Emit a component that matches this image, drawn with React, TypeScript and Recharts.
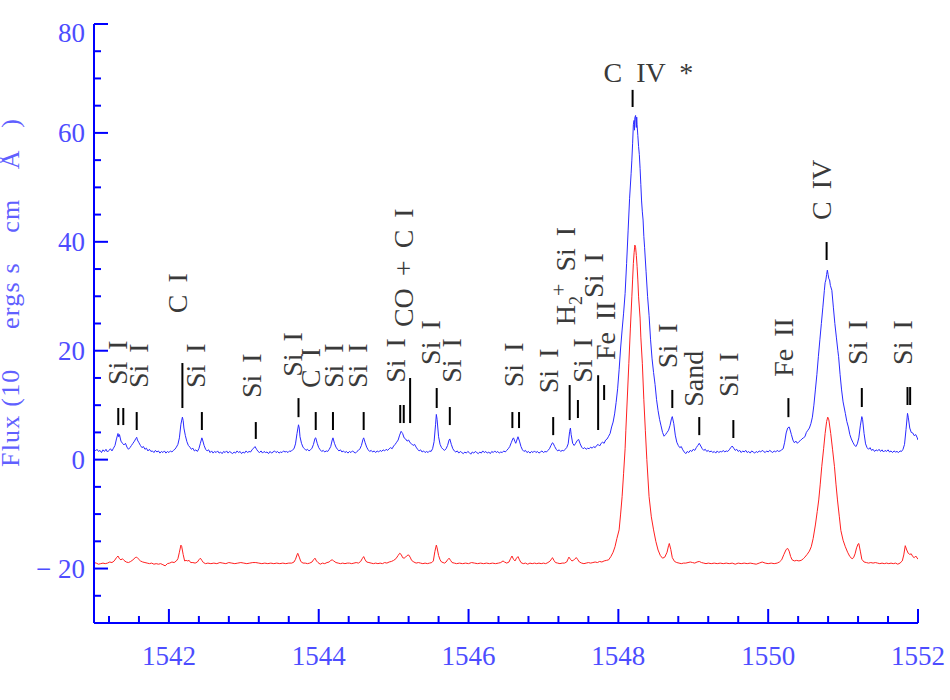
import React from 'react'
import { ComposedChart, Line, Scatter, XAxis, YAxis, ReferenceLine } from 'recharts'

// wavelength (A), flux
const blueSpectrum: [number, number][] = [
  [1541.00, 2.0], [1541.02, 1.6], [1541.04, 1.9], [1541.06, 1.5], [1541.08, 1.7], [1541.10, 1.3], [1541.12, 1.8], [1541.14, 1.5],
  [1541.16, 1.9], [1541.18, 1.4], [1541.20, 1.7], [1541.22, 2.0], [1541.24, 1.6], [1541.26, 2.1], [1541.28, 2.6], [1541.30, 3.8],
  [1541.32, 4.8], [1541.33, 4.2], [1541.34, 4.6], [1541.36, 3.4], [1541.38, 3.0], [1541.40, 2.7], [1541.42, 3.0], [1541.44, 2.3],
  [1541.46, 1.9], [1541.48, 2.2], [1541.50, 2.6], [1541.52, 3.0], [1541.54, 3.4], [1541.56, 3.9], [1541.57, 4.1], [1541.58, 3.6],
  [1541.60, 3.1], [1541.62, 2.6], [1541.64, 2.2], [1541.66, 2.4], [1541.68, 1.9], [1541.70, 2.1], [1541.72, 1.6], [1541.74, 1.9],
  [1541.76, 1.5], [1541.78, 1.6], [1541.80, 1.3], [1541.82, 1.7], [1541.84, 1.4], [1541.86, 1.6], [1541.88, 1.2], [1541.90, 1.5],
  [1541.92, 1.3], [1541.94, 1.6], [1541.96, 1.2], [1541.98, 1.5], [1542.00, 1.3], [1542.02, 1.6], [1542.04, 1.4], [1542.06, 1.7],
  [1542.08, 1.9], [1542.10, 2.3], [1542.12, 2.8], [1542.14, 4.0], [1542.16, 6.5], [1542.18, 7.8], [1542.19, 7.2], [1542.20, 5.8],
  [1542.22, 4.4], [1542.24, 3.3], [1542.26, 2.6], [1542.28, 2.3], [1542.30, 1.9], [1542.32, 2.1], [1542.34, 1.6], [1542.36, 1.8],
  [1542.38, 1.5], [1542.40, 2.0], [1542.42, 3.0], [1542.44, 4.0], [1542.45, 3.6], [1542.47, 2.6], [1542.49, 1.9], [1542.51, 1.6],
  [1542.53, 1.8], [1542.55, 1.3], [1542.57, 1.6], [1542.59, 1.2], [1542.61, 1.5], [1542.63, 1.3], [1542.65, 1.6], [1542.67, 1.2],
  [1542.69, 1.4], [1542.71, 1.1], [1542.73, 1.5], [1542.75, 1.3], [1542.77, 1.6], [1542.79, 1.2], [1542.81, 1.5], [1542.83, 1.3],
  [1542.85, 1.1], [1542.87, 1.4], [1542.89, 1.2], [1542.91, 1.6], [1542.93, 1.3], [1542.95, 1.5], [1542.97, 1.1], [1542.99, 1.4],
  [1543.01, 1.2], [1543.03, 1.6], [1543.05, 1.3], [1543.07, 1.5], [1543.09, 1.4], [1543.11, 1.8], [1543.13, 2.1], [1543.15, 2.4],
  [1543.17, 1.9], [1543.19, 1.5], [1543.21, 1.3], [1543.23, 1.6], [1543.25, 1.2], [1543.27, 1.5], [1543.29, 1.3], [1543.31, 1.4],
  [1543.33, 1.1], [1543.35, 1.5], [1543.37, 1.2], [1543.39, 1.4], [1543.41, 1.6], [1543.43, 1.3], [1543.45, 1.5], [1543.47, 1.2],
  [1543.49, 1.4], [1543.51, 1.3], [1543.53, 1.6], [1543.55, 1.4], [1543.57, 1.5], [1543.59, 1.3], [1543.61, 1.6], [1543.63, 1.5],
  [1543.65, 1.8], [1543.67, 2.0], [1543.69, 2.9], [1543.71, 4.8], [1543.73, 6.4], [1543.74, 5.8], [1543.75, 4.2], [1543.77, 3.0],
  [1543.79, 2.3], [1543.81, 2.0], [1543.83, 1.7], [1543.85, 1.9], [1543.87, 1.6], [1543.89, 1.8], [1543.91, 2.1], [1543.93, 2.8],
  [1543.95, 3.9], [1543.96, 4.0], [1543.98, 3.0], [1544.00, 2.2], [1544.02, 1.8], [1544.04, 1.5], [1544.06, 1.7], [1544.08, 1.4],
  [1544.10, 1.6], [1544.12, 1.5], [1544.14, 1.9], [1544.16, 2.4], [1544.18, 3.6], [1544.19, 4.0], [1544.21, 3.0], [1544.23, 2.3],
  [1544.25, 1.9], [1544.27, 1.6], [1544.29, 1.8], [1544.31, 1.4], [1544.33, 1.6], [1544.35, 1.3], [1544.37, 1.5], [1544.39, 1.2],
  [1544.41, 1.5], [1544.43, 1.3], [1544.45, 1.6], [1544.47, 1.4], [1544.49, 1.2], [1544.51, 1.5], [1544.53, 1.7], [1544.55, 2.0],
  [1544.57, 2.6], [1544.59, 3.7], [1544.60, 4.0], [1544.62, 3.1], [1544.64, 2.3], [1544.66, 1.8], [1544.68, 1.5], [1544.70, 1.7],
  [1544.72, 1.4], [1544.74, 1.6], [1544.76, 1.3], [1544.78, 1.6], [1544.80, 1.4], [1544.82, 1.7], [1544.84, 1.5], [1544.86, 1.8],
  [1544.88, 1.6], [1544.90, 1.9], [1544.92, 1.7], [1544.94, 2.0], [1544.96, 2.2], [1544.98, 2.0], [1545.00, 2.5], [1545.02, 2.8],
  [1545.04, 3.2], [1545.06, 3.6], [1545.08, 4.5], [1545.10, 5.2], [1545.11, 5.0], [1545.12, 4.8], [1545.14, 4.0], [1545.16, 3.8],
  [1545.18, 3.4], [1545.20, 3.6], [1545.22, 3.1], [1545.24, 2.9], [1545.26, 2.6], [1545.28, 2.8], [1545.30, 2.3], [1545.32, 1.9],
  [1545.34, 1.6], [1545.36, 1.8], [1545.38, 1.4], [1545.40, 1.6], [1545.42, 1.3], [1545.44, 1.5], [1545.46, 1.3], [1545.48, 1.6],
  [1545.50, 1.5], [1545.52, 2.0], [1545.54, 3.3], [1545.56, 6.5], [1545.57, 8.3], [1545.58, 7.4], [1545.60, 4.2], [1545.62, 2.8],
  [1545.64, 2.2], [1545.66, 1.9], [1545.68, 1.7], [1545.70, 2.0], [1545.72, 2.6], [1545.74, 3.6], [1545.75, 3.8], [1545.77, 2.8],
  [1545.79, 2.0], [1545.81, 1.6], [1545.83, 1.4], [1545.85, 1.6], [1545.87, 1.2], [1545.89, 1.5], [1545.91, 1.3], [1545.93, 1.1],
  [1545.95, 1.4], [1545.97, 1.2], [1545.99, 1.5], [1546.01, 1.3], [1546.03, 1.0], [1546.05, 1.4], [1546.07, 1.2], [1546.09, 1.5],
  [1546.11, 1.3], [1546.13, 1.1], [1546.15, 1.4], [1546.17, 1.2], [1546.19, 1.6], [1546.21, 1.3], [1546.23, 1.5], [1546.25, 1.2],
  [1546.27, 1.4], [1546.29, 1.1], [1546.31, 1.5], [1546.33, 1.3], [1546.35, 1.6], [1546.37, 1.3], [1546.39, 1.5], [1546.41, 1.2],
  [1546.43, 1.4], [1546.45, 1.3], [1546.47, 1.6], [1546.49, 1.4], [1546.51, 1.7], [1546.53, 2.0], [1546.55, 2.4], [1546.57, 3.1],
  [1546.59, 3.8], [1546.60, 4.0], [1546.62, 3.3], [1546.63, 3.0], [1546.65, 3.8], [1546.66, 4.2], [1546.68, 3.4], [1546.70, 2.4],
  [1546.72, 1.8], [1546.74, 1.5], [1546.76, 1.7], [1546.78, 1.3], [1546.80, 1.5], [1546.82, 1.2], [1546.84, 1.5], [1546.86, 1.3],
  [1546.88, 1.6], [1546.90, 1.3], [1546.92, 1.5], [1546.94, 1.2], [1546.96, 1.4], [1546.98, 1.6], [1547.00, 1.3], [1547.02, 1.5],
  [1547.04, 1.4], [1547.06, 1.7], [1547.08, 2.0], [1547.10, 2.6], [1547.12, 3.1], [1547.13, 3.0], [1547.15, 2.4], [1547.17, 1.9],
  [1547.19, 1.6], [1547.21, 1.8], [1547.23, 1.5], [1547.25, 1.7], [1547.27, 1.6], [1547.29, 1.9], [1547.31, 2.2], [1547.33, 2.9],
  [1547.35, 5.2], [1547.36, 5.8], [1547.37, 4.6], [1547.39, 3.0], [1547.41, 2.6], [1547.43, 3.0], [1547.45, 3.5], [1547.47, 3.7],
  [1547.49, 2.9], [1547.51, 2.3], [1547.53, 2.0], [1547.55, 2.2], [1547.57, 1.9], [1547.59, 2.1], [1547.61, 2.0], [1547.63, 2.3],
  [1547.65, 2.1], [1547.67, 2.4], [1547.69, 2.2], [1547.71, 2.6], [1547.73, 2.8], [1547.75, 2.5], [1547.77, 3.0], [1547.79, 3.2],
  [1547.81, 3.0], [1547.83, 3.6], [1547.85, 3.8], [1547.87, 4.3], [1547.89, 4.8], [1547.91, 6.0], [1547.93, 6.9], [1547.95, 8.4],
  [1547.97, 10.5], [1547.99, 13.0], [1548.01, 16.5], [1548.03, 20.5], [1548.05, 23.8], [1548.07, 26.9], [1548.09, 30.5], [1548.11, 36.0],
  [1548.13, 42.0], [1548.15, 48.0], [1548.17, 52.5], [1548.18, 55.0], [1548.19, 58.0], [1548.20, 61.5], [1548.21, 62.3], [1548.215, 60.5],
  [1548.22, 62.8], [1548.23, 63.2], [1548.24, 61.0], [1548.245, 62.9], [1548.25, 61.5], [1548.26, 59.5], [1548.27, 57.5], [1548.28, 56.0],
  [1548.29, 53.5], [1548.30, 50.5], [1548.31, 47.5], [1548.32, 45.5], [1548.33, 44.0], [1548.34, 41.0], [1548.35, 39.0], [1548.37, 34.5],
  [1548.39, 30.0], [1548.41, 26.5], [1548.43, 22.0], [1548.45, 18.5], [1548.47, 16.0], [1548.49, 13.8], [1548.51, 11.0], [1548.53, 9.0],
  [1548.55, 7.4], [1548.57, 6.2], [1548.59, 5.0], [1548.61, 4.3], [1548.63, 4.6], [1548.65, 5.0], [1548.67, 5.4], [1548.69, 6.3],
  [1548.71, 7.6], [1548.72, 7.9], [1548.74, 6.6], [1548.76, 4.5], [1548.78, 3.2], [1548.80, 2.6], [1548.82, 2.2], [1548.84, 2.4],
  [1548.86, 1.8], [1548.88, 1.4], [1548.90, 1.1], [1548.92, 1.5], [1548.94, 1.3], [1548.96, 1.7], [1548.98, 1.5], [1549.00, 1.9],
  [1549.02, 1.7], [1549.04, 2.2], [1549.06, 2.6], [1549.08, 3.0], [1549.10, 2.5], [1549.12, 2.0], [1549.14, 1.7], [1549.16, 1.9],
  [1549.18, 1.5], [1549.20, 1.7], [1549.22, 1.4], [1549.24, 1.6], [1549.26, 1.3], [1549.28, 1.5], [1549.30, 1.2], [1549.32, 1.6],
  [1549.34, 1.3], [1549.36, 1.5], [1549.38, 1.4], [1549.40, 1.7], [1549.42, 1.4], [1549.44, 1.6], [1549.46, 1.5], [1549.48, 1.8],
  [1549.50, 2.2], [1549.52, 2.5], [1549.54, 2.1], [1549.56, 1.7], [1549.58, 1.9], [1549.60, 1.5], [1549.62, 1.7], [1549.64, 1.3],
  [1549.66, 1.6], [1549.68, 1.4], [1549.70, 1.7], [1549.72, 1.3], [1549.74, 1.5], [1549.76, 1.2], [1549.78, 1.6], [1549.80, 1.4],
  [1549.82, 1.2], [1549.84, 1.5], [1549.86, 1.3], [1549.88, 1.6], [1549.90, 1.4], [1549.92, 1.7], [1549.94, 1.5], [1549.96, 1.3],
  [1549.98, 1.6], [1550.00, 1.4], [1550.02, 1.7], [1550.04, 1.5], [1550.06, 1.3], [1550.08, 1.6], [1550.10, 1.4], [1550.12, 1.7],
  [1550.14, 1.5], [1550.16, 1.6], [1550.18, 1.8], [1550.20, 2.0], [1550.22, 3.2], [1550.24, 4.9], [1550.26, 5.8], [1550.28, 6.0],
  [1550.29, 5.6], [1550.31, 4.6], [1550.33, 3.6], [1550.35, 3.1], [1550.37, 3.4], [1550.39, 3.0], [1550.41, 3.3], [1550.43, 3.5],
  [1550.45, 3.8], [1550.47, 4.0], [1550.49, 4.2], [1550.51, 5.0], [1550.53, 5.4], [1550.55, 5.8], [1550.57, 6.6], [1550.59, 7.8],
  [1550.61, 10.0], [1550.63, 12.8], [1550.65, 15.6], [1550.67, 18.9], [1550.69, 22.0], [1550.71, 25.0], [1550.73, 28.0], [1550.75, 31.1],
  [1550.76, 32.5], [1550.77, 33.0], [1550.78, 34.0], [1550.79, 34.8], [1550.80, 34.0], [1550.81, 33.2], [1550.82, 33.0], [1550.83, 32.0],
  [1550.85, 31.1], [1550.87, 28.0], [1550.89, 25.0], [1550.91, 22.5], [1550.93, 20.0], [1550.94, 18.9], [1550.96, 15.6], [1550.98, 12.8],
  [1551.00, 10.6], [1551.03, 8.5], [1551.05, 7.0], [1551.07, 6.0], [1551.09, 4.6], [1551.11, 3.8], [1551.13, 3.2], [1551.15, 2.7],
  [1551.17, 2.4], [1551.19, 2.9], [1551.21, 4.0], [1551.23, 6.2], [1551.25, 7.9], [1551.26, 7.4], [1551.28, 4.8], [1551.30, 2.9],
  [1551.32, 2.2], [1551.34, 1.9], [1551.36, 2.2], [1551.38, 1.7], [1551.40, 1.9], [1551.42, 1.5], [1551.44, 1.8], [1551.46, 1.6],
  [1551.48, 1.9], [1551.50, 1.5], [1551.52, 1.8], [1551.54, 1.4], [1551.56, 1.7], [1551.58, 1.5], [1551.60, 1.8], [1551.62, 1.4],
  [1551.64, 1.6], [1551.66, 1.3], [1551.68, 1.6], [1551.70, 1.4], [1551.72, 1.5], [1551.74, 1.3], [1551.76, 1.6], [1551.78, 1.5],
  [1551.80, 1.9], [1551.82, 2.8], [1551.84, 5.5], [1551.86, 8.5], [1551.87, 7.8], [1551.89, 5.8], [1551.91, 5.0], [1551.93, 4.9],
  [1551.95, 4.4], [1551.97, 4.6], [1551.99, 4.0], [1552.00, 3.6],
]

const redSpectrum: [number, number][] = [
  [1541.00, -18.9], [1541.03, -19.0], [1541.06, -19.2], [1541.09, -19.1], [1541.12, -19.0], [1541.15, -19.1], [1541.18, -19.0], [1541.21, -18.8],
  [1541.24, -18.9], [1541.27, -18.6], [1541.30, -18.0], [1541.32, -17.7], [1541.34, -18.2], [1541.36, -18.4], [1541.38, -18.2], [1541.40, -18.5],
  [1541.43, -18.8], [1541.46, -18.9], [1541.49, -18.7], [1541.52, -18.4], [1541.55, -18.0], [1541.57, -17.9], [1541.59, -18.2], [1541.62, -18.6],
  [1541.65, -18.8], [1541.68, -18.9], [1541.71, -19.0], [1541.74, -19.1], [1541.77, -19.0], [1541.80, -19.2], [1541.83, -19.1], [1541.86, -19.2],
  [1541.89, -19.1], [1541.92, -19.3], [1541.95, -19.5], [1541.98, -19.1], [1542.01, -19.0], [1542.04, -18.8], [1542.07, -18.9], [1542.10, -18.6],
  [1542.12, -18.2], [1542.14, -17.0], [1542.16, -15.7], [1542.17, -15.9], [1542.19, -17.4], [1542.21, -18.6], [1542.23, -18.5], [1542.25, -18.6],
  [1542.27, -18.5], [1542.29, -18.9], [1542.32, -18.9], [1542.35, -19.0], [1542.38, -18.8], [1542.40, -18.4], [1542.42, -18.1], [1542.44, -18.5],
  [1542.46, -18.9], [1542.49, -19.1], [1542.52, -19.0], [1542.56, -19.1], [1542.60, -19.0], [1542.64, -19.1], [1542.68, -18.9], [1542.72, -19.0],
  [1542.76, -19.1], [1542.80, -18.9], [1542.84, -19.0], [1542.88, -19.1], [1542.92, -19.0], [1542.96, -18.9], [1543.00, -19.0], [1543.04, -19.1],
  [1543.08, -19.0], [1543.12, -18.9], [1543.16, -18.9], [1543.20, -19.0], [1543.24, -19.1], [1543.28, -19.0], [1543.32, -19.1], [1543.36, -19.0],
  [1543.40, -19.1], [1543.44, -19.0], [1543.48, -19.1], [1543.52, -19.0], [1543.56, -19.1], [1543.60, -19.0], [1543.64, -19.0], [1543.67, -18.8],
  [1543.69, -18.3], [1543.71, -17.5], [1543.72, -17.2], [1543.74, -17.9], [1543.76, -18.7], [1543.79, -19.0], [1543.82, -19.0], [1543.85, -19.1],
  [1543.88, -19.0], [1543.91, -18.8], [1543.93, -18.4], [1543.95, -18.1], [1543.97, -18.6], [1543.99, -18.9], [1544.02, -19.2], [1544.05, -19.0],
  [1544.08, -19.1], [1544.11, -18.9], [1544.14, -18.8], [1544.16, -18.5], [1544.18, -18.4], [1544.20, -18.6], [1544.23, -18.9], [1544.26, -19.0],
  [1544.29, -19.1], [1544.32, -19.0], [1544.35, -19.1], [1544.38, -19.0], [1544.41, -19.0], [1544.44, -19.1], [1544.47, -19.0], [1544.50, -18.9],
  [1544.53, -19.0], [1544.56, -18.7], [1544.58, -18.2], [1544.60, -17.8], [1544.62, -18.4], [1544.64, -18.8], [1544.67, -18.9], [1544.70, -19.0],
  [1544.73, -19.1], [1544.76, -19.0], [1544.79, -19.1], [1544.82, -19.0], [1544.85, -19.1], [1544.88, -18.9], [1544.91, -19.0], [1544.94, -18.8],
  [1544.97, -18.7], [1545.00, -18.5], [1545.03, -18.2], [1545.06, -17.6], [1545.08, -17.2], [1545.10, -17.4], [1545.12, -18.0], [1545.14, -18.1],
  [1545.16, -17.9], [1545.18, -17.6], [1545.20, -17.5], [1545.22, -17.9], [1545.24, -18.5], [1545.27, -18.8], [1545.30, -19.0], [1545.33, -18.9],
  [1545.36, -19.0], [1545.39, -19.1], [1545.42, -19.0], [1545.45, -19.1], [1545.48, -19.0], [1545.51, -18.9], [1545.53, -18.6], [1545.55, -16.9],
  [1545.57, -15.7], [1545.58, -16.2], [1545.60, -17.6], [1545.62, -18.4], [1545.64, -18.8], [1545.66, -18.9], [1545.68, -19.0], [1545.70, -18.8],
  [1545.72, -18.4], [1545.74, -18.1], [1545.76, -18.5], [1545.78, -18.9], [1545.81, -19.0], [1545.84, -19.1], [1545.88, -19.0], [1545.92, -19.1],
  [1545.96, -19.0], [1546.00, -19.1], [1546.04, -18.9], [1546.08, -19.0], [1546.12, -19.1], [1546.16, -19.0], [1546.20, -19.1], [1546.24, -19.0],
  [1546.28, -19.1], [1546.32, -19.0], [1546.36, -19.1], [1546.40, -19.0], [1546.43, -18.9], [1546.46, -18.6], [1546.48, -18.8], [1546.51, -19.0],
  [1546.54, -18.8], [1546.56, -18.2], [1546.58, -17.7], [1546.60, -18.3], [1546.62, -18.6], [1546.64, -18.1], [1546.66, -17.8], [1546.68, -18.4],
  [1546.70, -18.9], [1546.73, -19.1], [1546.76, -19.0], [1546.79, -19.2], [1546.82, -19.0], [1546.85, -19.1], [1546.88, -19.0], [1546.91, -19.1],
  [1546.94, -19.0], [1546.97, -19.1], [1547.00, -19.0], [1547.03, -19.1], [1547.06, -18.9], [1547.09, -18.6], [1547.11, -18.2], [1547.12, -18.0],
  [1547.14, -18.5], [1547.16, -18.9], [1547.19, -19.0], [1547.22, -19.1], [1547.25, -19.0], [1547.28, -19.0], [1547.31, -18.8], [1547.33, -18.2],
  [1547.34, -17.9], [1547.36, -18.3], [1547.38, -18.6], [1547.40, -18.5], [1547.42, -18.2], [1547.44, -18.0], [1547.46, -18.4], [1547.48, -18.8],
  [1547.51, -19.0], [1547.54, -19.1], [1547.57, -19.0], [1547.60, -18.9], [1547.63, -19.0], [1547.66, -18.9], [1547.69, -18.8], [1547.72, -18.9],
  [1547.75, -18.7], [1547.78, -18.8], [1547.81, -18.6], [1547.84, -18.5], [1547.87, -18.4], [1547.90, -17.8], [1547.93, -17.0], [1547.955, -16.0],
  [1547.98, -14.5], [1548.01, -12.9], [1548.03, -10.0], [1548.05, -6.8], [1548.07, -2.5], [1548.09, 2.0], [1548.10, 5.4], [1548.12, 11.5],
  [1548.14, 17.7], [1548.16, 24.0], [1548.18, 29.9], [1548.19, 33.0], [1548.20, 36.0], [1548.21, 38.0], [1548.22, 39.4], [1548.23, 39.0],
  [1548.24, 37.5], [1548.25, 35.5], [1548.26, 33.0], [1548.27, 29.9], [1548.29, 26.0], [1548.30, 22.5], [1548.32, 17.7], [1548.34, 11.0],
  [1548.36, 5.4], [1548.38, 0.0], [1548.41, -6.8], [1548.44, -10.5], [1548.47, -12.9], [1548.50, -15.0], [1548.53, -16.6], [1548.56, -17.6],
  [1548.59, -18.1], [1548.62, -17.9], [1548.65, -17.0], [1548.67, -15.8], [1548.68, -15.4], [1548.70, -16.5], [1548.72, -18.0], [1548.75, -18.7],
  [1548.78, -18.9], [1548.81, -19.0], [1548.84, -19.1], [1548.87, -19.0], [1548.90, -19.0], [1548.93, -18.9], [1548.96, -18.8], [1548.99, -18.9],
  [1549.02, -19.0], [1549.05, -18.8], [1549.08, -18.7], [1549.11, -18.9], [1549.14, -19.0], [1549.17, -19.1], [1549.20, -19.0], [1549.24, -19.1],
  [1549.28, -19.0], [1549.32, -19.1], [1549.36, -19.0], [1549.40, -19.1], [1549.44, -19.0], [1549.48, -19.1], [1549.52, -19.0], [1549.56, -19.2],
  [1549.60, -19.0], [1549.64, -19.1], [1549.68, -19.0], [1549.72, -19.1], [1549.76, -19.0], [1549.80, -19.1], [1549.84, -19.2], [1549.88, -19.0],
  [1549.92, -18.8], [1549.96, -19.0], [1550.00, -19.1], [1550.04, -19.0], [1550.08, -19.1], [1550.12, -19.0], [1550.15, -18.8], [1550.18, -18.4],
  [1550.21, -17.4], [1550.24, -16.5], [1550.26, -16.3], [1550.28, -16.8], [1550.30, -17.8], [1550.32, -18.4], [1550.35, -18.6], [1550.38, -18.5],
  [1550.41, -18.6], [1550.44, -18.5], [1550.47, -18.2], [1550.49, -17.9], [1550.52, -17.4], [1550.55, -16.8], [1550.575, -16.0], [1550.60, -14.5],
  [1550.63, -12.0], [1550.655, -9.5], [1550.675, -7.4], [1550.695, -4.5], [1550.715, -1.3], [1550.74, 2.0], [1550.76, 4.8], [1550.78, 7.0],
  [1550.795, 7.8], [1550.81, 7.3], [1550.835, 4.8], [1550.86, 1.8], [1550.885, -1.3], [1550.905, -4.5], [1550.925, -7.4], [1550.95, -10.5],
  [1550.97, -13.0], [1551.00, -14.8], [1551.03, -16.0], [1551.06, -17.0], [1551.09, -17.8], [1551.12, -18.2], [1551.14, -18.0], [1551.16, -17.3],
  [1551.18, -16.2], [1551.20, -15.5], [1551.21, -15.4], [1551.23, -16.8], [1551.25, -18.3], [1551.28, -18.8], [1551.31, -18.9], [1551.34, -19.0],
  [1551.37, -18.9], [1551.40, -19.0], [1551.43, -18.9], [1551.46, -19.0], [1551.49, -19.1], [1551.52, -19.0], [1551.55, -19.1], [1551.58, -19.0],
  [1551.61, -19.1], [1551.64, -19.0], [1551.67, -19.1], [1551.70, -19.0], [1551.73, -19.2], [1551.76, -19.0], [1551.79, -18.6], [1551.81, -17.5],
  [1551.83, -15.8], [1551.85, -16.6], [1551.87, -17.2], [1551.89, -17.4], [1551.91, -17.3], [1551.93, -17.8], [1551.95, -18.0], [1551.97, -17.7],
  [1552.00, -18.3],
]

// line identifications: text position (bottom end of rotated text)
const labelWave = [1541.315, 1541.60, 1542.115, 1542.36, 1543.10, 1543.65, 1543.90, 1544.20, 1544.52, 1545.03, 1545.14, 1545.50, 1545.77,
  1546.61, 1547.075, 1547.295, 1547.52, 1547.675, 1547.835, 1548.66, 1549.01, 1549.48, 1550.205, 1550.72, 1551.19, 1551.79]
const labelFlux = [13.7, 13.15, 26.9, 13.15, 11.3, 15.2, 13.15, 13.15, 13.15, 14.1, 24.35, 17.4, 14.1,
  13.3, 12.2, 24.7, 14.1, 29.7, 18.3, 16.8, 9.7, 11.5, 15.2, 44.0, 17.4, 17.4]
const labelText = ['Si I', 'Si I', 'C I', 'Si I', 'Si I', 'Si I', 'C I', 'Si I', 'Si I', 'Si I', 'CO + C I', 'Si I', 'Si I',
  'Si I', 'Si I', 'H2+ Si I', 'Si I', 'Si I', 'Fe II', 'Si I', 'Sand', 'Si I', 'Fe II', 'C IV', 'Si I', 'Si I']

// tick marks over the lines
const markWave = [1541.324, 1541.391, 1541.57, 1542.18, 1542.44, 1543.16, 1543.73, 1543.96, 1544.19, 1544.60, 1545.088, 1545.135,
  1545.22, 1545.575, 1545.75, 1546.585, 1546.674, 1547.13, 1547.35, 1547.46, 1547.73, 1547.81, 1548.19, 1548.72, 1549.08,
  1549.535, 1550.27, 1550.78, 1551.25, 1551.86, 1551.895]
const markLow = [6.35, 6.35, 5.44, 9.48, 5.44, 3.8, 7.8, 5.44, 5.44, 5.44, 6.72, 6.72, 6.72, 9.48, 6.35, 5.8, 5.8, 4.5, 7.27, 7.64,
  5.44, 10.95, 64.76, 9.48, 4.5, 3.97, 7.8, 36.66, 9.66, 10.03, 10.03]
const markHigh = [9.48, 9.48, 8.74, 17.74, 8.74, 6.9, 11.3, 8.74, 8.74, 8.74, 10.03, 10.03, 14.99, 13.15, 9.66, 8.74, 8.74, 7.82,
  13.7, 10.95, 15.5, 13.7, 67.9, 12.8, 7.82, 7.27, 11.3, 39.96, 13.15, 13.33, 13.33]

const topLabelWave = 1548.40
const topLabelFlux = 69.35
const topLabelText = 'C  IV  *'

const xTicks = [1541.2, 1541.6, 1542, 1542.4, 1542.8, 1543.2, 1543.6, 1544, 1544.4, 1544.8, 1545.2, 1545.6, 1546, 1546.4,
  1546.8, 1547.2, 1547.6, 1548, 1548.4, 1548.8, 1549.2, 1549.6, 1550, 1550.4, 1550.8, 1551.2, 1551.6, 1552]
const xLabels = [1542, 1544, 1546, 1548, 1550, 1552]
const yTicks = [-25, -20, -15, -10, -5, 0, 5, 10, 15, 20, 25, 30, 35, 40, 45, 50, 55, 60, 65, 70, 75, 80]
const yLabels = [-20, 0, 20, 40, 60, 80]

const AXIS = '#0000ff'
const TICK_TEXT = '#4d4dff'
const FONT = "'Liberation Serif', 'DejaVu Serif', serif"

const blueData = blueSpectrum.map(([w, f]) => ({ w, f }))
const redData = redSpectrum.map(([w, f]) => ({ w, f }))
const labelData = labelWave.map((w, i) => ({ w, f: labelFlux[i], text: labelText[i] }))
const topLabelData = [{ w: topLabelWave, f: topLabelFlux, text: topLabelText }]

const isMajorX = (v: number) => xLabels.some(l => Math.abs(l - v) < 1e-6)
const isMajorY = (v: number) => yLabels.includes(v)

const BottomTick = (props: any) => {
  const { x, y, payload } = props
  const major = isMajorX(payload.value)
  return (
    <g>
      <line x1={x} x2={x} y1={y} y2={y - (major ? 14 : 7)} stroke={AXIS} strokeWidth={2} />
      {major && (
        <text x={x} y={y + 42} textAnchor="middle" fontFamily={FONT} fontSize={27} fill={TICK_TEXT}>
          {payload.value}
        </text>
      )}
    </g>
  )
}

const TopTick = (props: any) => {
  const { x, y, payload } = props
  const major = isMajorX(payload.value)
  return <line x1={x} x2={x} y1={y} y2={y + (major ? 14 : 7)} stroke={AXIS} strokeWidth={2} />
}

const LeftTick = (props: any) => {
  const { x, y, payload } = props
  const v = payload.value
  const major = isMajorY(v)
  const base = v === 80 ? y + 18 : y + 9
  return (
    <g>
      <line x1={x} x2={x + (major ? 14 : 7)} y1={y} y2={y} stroke={AXIS} strokeWidth={2} />
      {major && (
        <text x={x - 9} y={base} textAnchor="end" fontFamily={FONT} fontSize={27} fill={TICK_TEXT} xmlSpace="preserve">
          {v < 0 ? `\u2212 ${Math.abs(v)}` : v}
        </text>
      )}
    </g>
  )
}

const RightTick = (props: any) => {
  const { x, y, payload } = props
  const major = isMajorY(payload.value)
  return <line x1={x} x2={x - (major ? 14 : 7)} y1={y} y2={y} stroke={AXIS} strokeWidth={2} />
}

const LineLabel = (props: any) => {
  const { cx, cy } = props
  const text: string = props.text ?? props.payload?.text
  const common = {
    x: cx,
    y: cy,
    dy: '0.33em',
    transform: `rotate(-90 ${cx} ${cy})`,
    fontFamily: FONT,
    fontSize: 28,
    fill: '#3a3a3a',
    style: { wordSpacing: '5px' },
  }
  if (text === 'H2+ Si I') {
    return (
      <text {...common}>
        H<tspan dy={7} fontSize={18}>2</tspan>
        <tspan dy={-16} fontSize={22}>+</tspan>
        <tspan dy={9}>{' Si I'}</tspan>
      </text>
    )
  }
  return <text {...common}>{text}</text>
}

const TopLabel = (props: any) => {
  const { cx, cy } = props
  return (
    <text x={cx} y={cy} textAnchor="middle" fontFamily={FONT} fontSize={28} fill="#3a3a3a" xmlSpace="preserve"
      style={{ whiteSpace: 'pre' }}>
      {props.text ?? props.payload?.text}
    </text>
  )
}

export default function App() {
  return (
    <div style={{ position: 'absolute', left: 0, top: 0, width: 950, height: 700, background: '#fff' }}>
      <ComposedChart width={950} height={700} margin={{ top: 24, right: 32, bottom: 0, left: 0 }}>
        <XAxis xAxisId="b" dataKey="w" type="number" domain={[1541, 1552]} allowDataOverflow ticks={xTicks} interval={0}
          tickLine={false} tickSize={0} tickMargin={0} height={77} axisLine={{ stroke: AXIS, strokeWidth: 2 }}
          tick={(p: any) => <BottomTick {...p} />} />
        <XAxis xAxisId="t" orientation="top" dataKey="w" type="number" domain={[1541, 1552]} allowDataOverflow ticks={xTicks}
          interval={0} tickLine={false} tickSize={0} tickMargin={0} height={0} axisLine={{ stroke: AXIS, strokeWidth: 2 }}
          tick={(p: any) => <TopTick {...p} />} />
        <YAxis yAxisId="l" type="number" domain={[-30, 80]} allowDataOverflow ticks={yTicks} interval={0} tickLine={false}
          tickSize={0} tickMargin={0} width={94} axisLine={{ stroke: AXIS, strokeWidth: 2 }}
          tick={(p: any) => <LeftTick {...p} />} />
        <YAxis yAxisId="r" orientation="right" type="number" domain={[-30, 80]} allowDataOverflow ticks={yTicks} interval={0}
          tickLine={false} tickSize={0} tickMargin={0} width={0} axisLine={{ stroke: AXIS, strokeWidth: 2 }}
          tick={(p: any) => <RightTick {...p} />} />

        <Line data={redData} dataKey="f" xAxisId="b" yAxisId="l" type="linear" stroke="#ff2020" strokeWidth={1}
          dot={false} activeDot={false} isAnimationActive={false} />
        <Line data={blueData} dataKey="f" xAxisId="b" yAxisId="l" type="linear" stroke="#2a2aff" strokeWidth={1}
          dot={false} activeDot={false} isAnimationActive={false} />

        {markWave.map((w, i) => (
          <ReferenceLine key={`m${i}`} xAxisId="b" yAxisId="l" stroke="#000" strokeWidth={2}
            segment={[{ x: w, y: markLow[i] }, { x: w, y: markHigh[i] }]} />
        ))}

        <Scatter data={labelData} dataKey="f" xAxisId="b" yAxisId="l" isAnimationActive={false}
          shape={(p: any) => <LineLabel {...p} />} />
        <Scatter data={topLabelData} dataKey="f" xAxisId="b" yAxisId="l" isAnimationActive={false}
          shape={(p: any) => <TopLabel {...p} />} />

        {/* y title: as in the reference, it sits against the left edge and its exponents run off the page */}
        <text x={19} y={467} transform="rotate(-90 19 467)" fontFamily={FONT} fontSize={26} fill="#6060ff"
          textLength={348} lengthAdjust="spacing">
          Flux (10<tspan dy={-28} fontSize={18}>{'\u221213'}</tspan>
          <tspan dy={28}>{' ergs s'}</tspan>
          <tspan dy={-28} fontSize={18}>{'\u22121'}</tspan>
          <tspan dy={28}>{' cm'}</tspan>
          <tspan dy={-28} fontSize={18}>{'\u22122'}</tspan>
          <tspan dy={28}>{' \u00c5'}</tspan>
          <tspan dy={-28} fontSize={18}>{'\u22121'}</tspan>
          <tspan dy={28}>)</tspan>
        </text>
      </ComposedChart>
    </div>
  )
}
